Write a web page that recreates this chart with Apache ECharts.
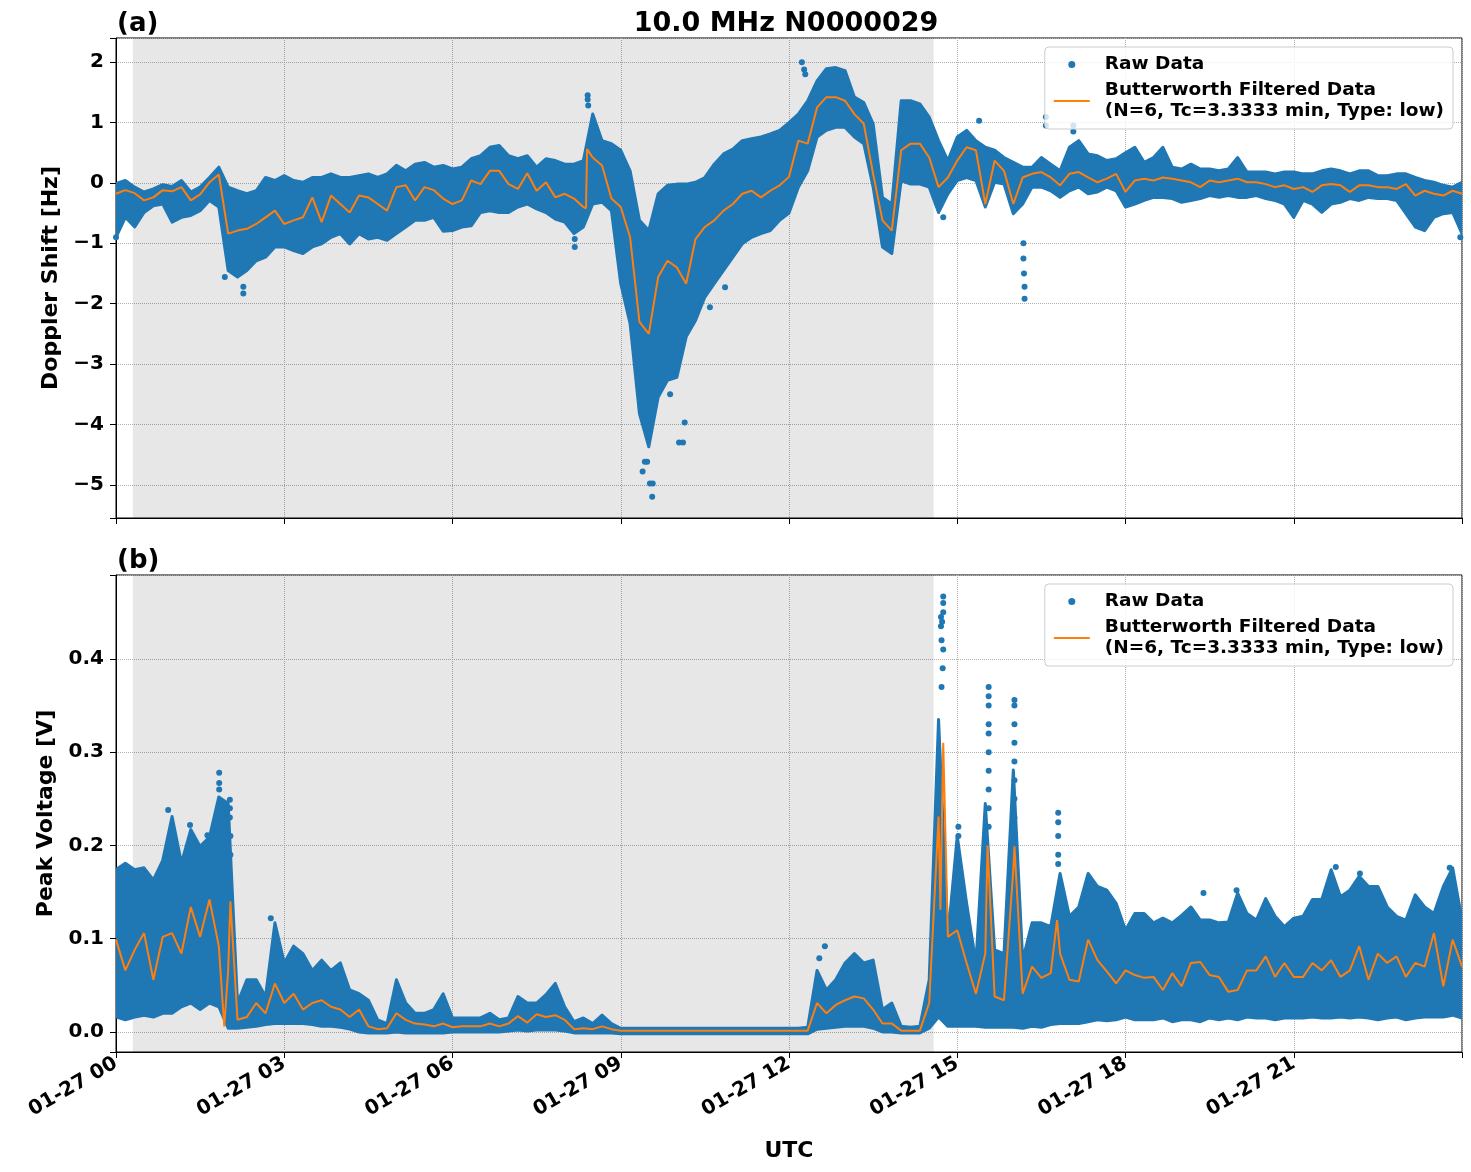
<!DOCTYPE html>
<html>
<head>
<meta charset="utf-8">
<script src="https://cdn.jsdelivr.net/npm/echarts@6/dist/echarts.min.js"></script>
<style>
  html, body { margin: 0; padding: 0; background: #fff; }
  #chart { width: 1471px; height: 1172px; }
</style>
</head>
<body>
<div id="chart"></div>
<script>
// sampling grid: every 10 min over 01-27 (hours UTC)
const hours = Array.from({ length: 145 }, (_, i) => i / 6)
const xTicks = [0, 3, 6, 9, 12, 15, 18, 21]
const nightStart = 0.3
const nightEnd = 14.58

// (a) Doppler shift [Hz]: raw-data cloud edges, filtered curve, isolated raw points
const dopplerHigh = [
  -0.01, 0.04, -0.07, -0.15, -0.1, -0.03, -0.06, 0.04, -0.15, -0.07, 0.09, 0.26,
  -0.07, -0.13, -0.18, -0.13, 0.09, 0.04, 0.12, 0.04, 0.01, 0.09, 0.09, 0.15,
  0.09, 0.09, 0.12, 0.15, 0.09, 0.15, 0.29, 0.2, 0.31, 0.34, 0.26, 0.29,
  0.23, 0.26, 0.4, 0.45, 0.59, 0.62, 0.45, 0.4, 0.45, 0.26, 0.4, 0.37,
  0.31, 0.31, 0.37, 1.14, 0.7, 0.65, 0.54, 0.2, -0.62, -0.79, -0.18, -0.04,
  -0.02, -0.02, 0.01, 0.09, 0.31, 0.48, 0.56, 0.7, 0.73, 0.76, 0.81, 0.87,
  1.0, 1.14, 1.36, 1.69, 1.89, 1.91, 1.86, 1.42, 1.33, 0.98, -0.24, -0.35,
  1.36, 1.36, 1.31, 1.09, 0.7, 0.37, 0.76, 0.87, 0.7, 0.59, 0.54, 0.42,
  0.34, 0.26, 0.26, 0.42, 0.31, 0.2, 0.59, 0.7, 0.48, 0.45, 0.37, 0.4,
  0.5, 0.59, 0.34, 0.42, 0.59, 0.26, 0.23, 0.31, 0.23, 0.23, 0.2, 0.23,
  0.42, 0.18, 0.18, 0.18, 0.15, 0.18, 0.18, 0.15, 0.15, 0.2, 0.23, 0.2,
  0.15, 0.2, 0.2, 0.12, 0.12, 0.15, 0.15, 0.09, 0.04, 0.01, -0.04, -0.07, 0.01
]
const dopplerLow = [
  -0.9, -0.57, -0.73, -0.49, -0.38, -0.35, -0.65, -0.57, -0.54, -0.46, -0.29, -0.4,
  -1.45, -1.56, -1.45, -1.29, -1.23, -1.06, -1.06, -1.12, -1.17, -1.06, -1.01, -0.9,
  -0.84, -1.01, -0.84, -0.93, -0.9, -0.95, -0.84, -0.73, -0.62, -0.62, -0.57, -0.8,
  -0.79, -0.73, -0.71, -0.49, -0.46, -0.49, -0.49, -0.4, -0.35, -0.43, -0.49, -0.6,
  -0.65, -0.84, -0.73, -0.35, -0.32, -0.46, -1.67, -2.33, -3.82, -4.37, -3.55, -3.27,
  -3.22, -2.55, -2.28, -1.89, -1.67, -1.45, -1.23, -1.01, -0.9, -0.84, -0.79, -0.62,
  -0.5, -0.07, 0.2, 0.76, 0.87, 0.92, 0.92, 0.76, 0.65, -0.07, -1.06, -1.17,
  0.04, -0.02, -0.02, -0.07, -0.49, -0.18, 0.04, 0.09, 0.04, -0.4, 0.01, -0.02,
  -0.51, -0.35, -0.07, -0.07, -0.13, -0.24, -0.13, -0.07, -0.18, -0.15, -0.07, -0.13,
  -0.4, -0.35, -0.29, -0.24, -0.24, -0.26, -0.32, -0.29, -0.26, -0.21, -0.24, -0.21,
  -0.24, -0.24, -0.21, -0.26, -0.29, -0.35, -0.57, -0.29, -0.35, -0.49, -0.35, -0.32,
  -0.26, -0.29, -0.24, -0.26, -0.26, -0.29, -0.51, -0.73, -0.79, -0.57, -0.51, -0.49, -0.84
]
const dopplerFiltered = [
  -0.18, -0.12, -0.17, -0.29, -0.24, -0.12, -0.14, -0.07, -0.29, -0.19, 0.01, 0.14,
  -0.84, -0.79, -0.76, -0.68, -0.57, -0.46, -0.68, -0.62, -0.57, -0.24, -0.65, -0.21,
  -0.35, -0.49, -0.21, -0.24, -0.35, -0.46, -0.07, -0.04, -0.29, -0.07, -0.12, -0.26,
  -0.35, -0.29, 0.04, -0.02, 0.2, 0.2, -0.02, -0.1, 0.16, -0.13, 0.01, -0.24,
  -0.18, -0.26, -0.4, 0.42, 0.29, -0.26, -0.4, -0.9, -2.3, -2.5, -1.56, -1.29,
  -1.4, -1.67, -0.93, -0.73, -0.62, -0.46, -0.35, -0.18, -0.13, -0.24, -0.13, -0.04,
  0.1, 0.7, 0.65, 1.25, 1.42, 1.42, 1.36, 1.14, 0.98, 0.15, -0.62, -0.79,
  0.54, 0.65, 0.65, 0.42, -0.07, 0.09, 0.37, 0.59, 0.54, -0.35, 0.37, 0.2,
  -0.35, 0.09, 0.15, 0.18, 0.09, -0.04, 0.15, 0.18, 0.09, 0.01, 0.07, 0.15,
  -0.15, 0.04, 0.07, 0.04, 0.09, 0.07, 0.04, 0.01, -0.07, 0.04, 0.01, 0.04,
  0.07, 0.01, 0.01, -0.02, -0.07, -0.04, -0.1, -0.07, -0.15, -0.04, -0.02, -0.04,
  -0.15, -0.04, -0.04, -0.07, -0.07, -0.1, -0.02, -0.21, -0.13, -0.18, -0.21, -0.13, -0.18
]
// sharp steps of the filtered curve between grid samples
const dopplerFilteredExtra = [[8.38, -0.42], [8.4, 0.56]]
const dopplerOutliers = [
  [0.0, -0.9], [1.94, -1.56], [2.27, -1.83], [2.27, -1.72], [8.18, -1.06], [8.18, -0.93],
  [8.41, 1.45], [8.41, 1.38], [8.42, 1.28], [9.39, -4.78], [9.43, -4.62], [9.47, -4.62],
  [9.52, -4.98], [9.56, -5.2], [9.57, -4.98], [9.88, -3.5], [10.04, -4.3], [10.11, -4.3],
  [10.14, -3.97], [10.59, -2.06], [10.86, -1.73], [12.23, 2.0], [12.27, 1.88], [12.29, 1.8],
  [14.75, -0.57], [15.39, 1.03], [16.18, -1.0], [16.18, -1.25], [16.19, -1.5], [16.2, -1.72],
  [16.2, -1.92], [16.58, 1.09], [16.58, 0.95], [17.07, 0.95], [17.07, 0.85], [23.97, -0.9]
]

// (b) Peak voltage [V]
const voltageHigh = [
  0.174, 0.181, 0.174, 0.176, 0.163, 0.184, 0.231, 0.181, 0.217, 0.199, 0.209, 0.252,
  0.245, 0.031, 0.056, 0.056, 0.038, 0.117, 0.074, 0.092, 0.084, 0.066, 0.077, 0.066,
  0.074, 0.045, 0.041, 0.034, 0.013, 0.009, 0.056, 0.031, 0.02, 0.02, 0.024, 0.041,
  0.015, 0.015, 0.015, 0.015, 0.02, 0.013, 0.015, 0.038, 0.031, 0.031, 0.04, 0.052,
  0.027, 0.011, 0.015, 0.009, 0.018, 0.009, 0.004, 0.004, 0.004, 0.004, 0.004, 0.004,
  0.004, 0.004, 0.004, 0.004, 0.004, 0.004, 0.004, 0.004, 0.004, 0.004, 0.004, 0.004,
  0.004, 0.004, 0.005, 0.066, 0.045, 0.056, 0.074, 0.084, 0.074, 0.077, 0.024, 0.031,
  0.006, 0.005, 0.006, 0.056, 0.335, 0.102, 0.21, 0.138, 0.074, 0.245, 0.088, 0.084,
  0.281, 0.077, 0.117, 0.117, 0.113, 0.17, 0.124, 0.134, 0.17, 0.156, 0.152, 0.138,
  0.109, 0.127, 0.127, 0.117, 0.122, 0.117, 0.125, 0.134, 0.12, 0.12, 0.117, 0.118,
  0.149, 0.127, 0.12, 0.143, 0.124, 0.113, 0.122, 0.124, 0.142, 0.142, 0.174, 0.145,
  0.152, 0.167, 0.156, 0.156, 0.134, 0.124, 0.12, 0.147, 0.134, 0.127, 0.156, 0.176, 0.12
]
const voltageLow = [
  0.016, 0.013, 0.016, 0.018, 0.016, 0.02, 0.02, 0.027, 0.031, 0.024, 0.031, 0.027,
  0.004, 0.004, 0.005, 0.006, 0.008, 0.009, 0.009, 0.009, 0.009, 0.008, 0.006, 0.006,
  0.005, 0.003, 0.0, -0.001, -0.001, -0.001, 0.0, -0.001, -0.001, -0.001, -0.001, -0.001,
  0.0, 0.0, 0.0, 0.0, 0.0, 0.0, 0.001, 0.002, 0.001, 0.002, 0.002, 0.002,
  0.001, -0.001, -0.001, -0.001, -0.001, -0.001, -0.002, -0.002, -0.002, -0.002, -0.002, -0.002,
  -0.002, -0.002, -0.002, -0.002, -0.002, -0.002, -0.002, -0.002, -0.002, -0.002, -0.002, -0.002,
  -0.002, -0.002, -0.002, 0.003, 0.004, 0.005, 0.006, 0.006, 0.006, 0.004, 0.0, 0.0,
  -0.001, -0.001, -0.001, 0.004, 0.016, 0.006, 0.006, 0.006, 0.006, 0.005, 0.005, 0.005,
  0.005, 0.004, 0.006, 0.005, 0.008, 0.009, 0.009, 0.009, 0.011, 0.013, 0.012, 0.013,
  0.016, 0.013, 0.013, 0.013, 0.015, 0.011, 0.013, 0.013, 0.011, 0.015, 0.013, 0.015,
  0.013, 0.016, 0.015, 0.015, 0.013, 0.015, 0.015, 0.015, 0.016, 0.015, 0.015, 0.016,
  0.015, 0.016, 0.015, 0.013, 0.015, 0.016, 0.013, 0.015, 0.016, 0.016, 0.016, 0.018, 0.015
]
const voltageFiltered = [
  0.099, 0.066, 0.088, 0.106, 0.056, 0.102, 0.106, 0.084, 0.134, 0.102, 0.142, 0.092,
  0.066, 0.013, 0.016, 0.031, 0.02, 0.052, 0.031, 0.041, 0.024, 0.031, 0.034, 0.027,
  0.024, 0.016, 0.024, 0.006, 0.003, 0.004, 0.02, 0.013, 0.009, 0.008, 0.006, 0.009,
  0.005, 0.006, 0.006, 0.006, 0.009, 0.006, 0.009, 0.017, 0.01, 0.019, 0.016, 0.018,
  0.013, 0.003, 0.004, 0.003, 0.006, 0.003, 0.0014, 0.0014, 0.0014, 0.0014, 0.0014, 0.0014,
  0.0014, 0.0014, 0.0014, 0.0014, 0.0014, 0.0014, 0.0014, 0.0014, 0.0014, 0.0014, 0.0014, 0.0014,
  0.0014, 0.0014, 0.0014, 0.031, 0.02, 0.029, 0.034, 0.038, 0.036, 0.024, 0.009, 0.009,
  0.0014, 0.0014, 0.0014, 0.031, 0.231, 0.102, 0.109, 0.074, 0.041, 0.084, 0.038, 0.034,
  0.174, 0.041, 0.07, 0.058, 0.063, 0.084, 0.056, 0.054, 0.099, 0.077, 0.065, 0.052,
  0.066, 0.061, 0.058, 0.059, 0.045, 0.063, 0.049, 0.074, 0.075, 0.061, 0.059, 0.043,
  0.045, 0.066, 0.066, 0.081, 0.059, 0.074, 0.059, 0.059, 0.074, 0.066, 0.077, 0.059,
  0.066, 0.092, 0.056, 0.084, 0.074, 0.081, 0.059, 0.074, 0.07, 0.106, 0.049, 0.099, 0.07
]
const voltageFilteredExtra = [
  [1.93, 0.006], [2.04, 0.14], [14.7, 0.131], [14.75, 0.31], [15.54, 0.2], [16.02, 0.199], [16.78, 0.12]
]
const voltageOutliers = [
  [0.93, 0.238], [1.32, 0.222], [1.63, 0.211], [1.84, 0.278], [1.84, 0.267], [1.84, 0.26],
  [2.03, 0.249], [2.03, 0.24], [2.03, 0.23], [2.04, 0.21], [2.04, 0.19], [2.76, 0.122],
  [2.95, 0.074], [12.54, 0.079], [12.64, 0.092],
  [14.71, 0.445], [14.71, 0.435], [14.72, 0.42], [14.72, 0.37], [14.73, 0.44], [14.74, 0.39],
  [14.75, 0.467], [14.75, 0.46], [14.75, 0.45], [14.75, 0.41], [15.02, 0.22], [15.02, 0.21],
  [15.56, 0.37], [15.56, 0.36], [15.56, 0.35], [15.56, 0.33], [15.56, 0.32], [15.56, 0.3],
  [15.56, 0.28], [15.56, 0.26], [15.56, 0.24], [15.56, 0.22],
  [16.02, 0.356], [16.02, 0.35], [16.02, 0.33], [16.02, 0.31], [16.02, 0.29], [16.02, 0.27],
  [16.02, 0.25], [16.02, 0.23], [16.8, 0.235], [16.8, 0.225], [16.8, 0.21], [16.8, 0.19],
  [16.8, 0.18], [19.39, 0.149], [19.98, 0.152], [21.75, 0.177], [22.18, 0.17], [23.78, 0.176]
]

const FONT = 'DejaVu Sans'
const BLUE = '#1f77b4'
const ORANGE = '#ff7f0e'
const RAW = 'Raw Data'
const FILT = 'Butterworth Filtered Data\n(N=6, Tc=3.3333 min, Type: low)'
const bold = (size) => ({ fontFamily: FONT, fontWeight: 'bold', fontSize: size, color: '#000' })

// whole cloud as one polygon: upper edge forward, lower edge back
function bandItem(params, api) {
  if (params.dataIndexInside !== 0) return null
  const n = params.dataInsideLength
  const pts = []
  for (let j = 0; j < n; j++) pts.push(api.coord([api.value(0, j), api.value(2, j)]))
  for (let j = n - 1; j >= 0; j--) pts.push(api.coord([api.value(0, j), api.value(1, j)]))
  return {
    type: 'polygon',
    shape: { points: pts },
    style: { fill: BLUE, stroke: BLUE, lineWidth: 3, lineJoin: 'round' },
  }
}

const lineData = (filtered, extra) =>
  hours.map((h, i) => [h, filtered[i]]).concat(extra).sort((a, b) => a[0] - b[0])

function panelSeries(k, low, high, filtered, extra, outliers) {
  return [
    {
      type: 'line', xAxisIndex: k, yAxisIndex: k, data: [], z: 1, silent: true,
      markArea: {
        silent: true,
        itemStyle: { color: 'rgba(0,0,0,0.095)' },
        data: [[{ xAxis: nightStart }, { xAxis: nightEnd }]],
      },
    },
    {
      name: RAW, type: 'custom', xAxisIndex: k, yAxisIndex: k, z: 2, clip: true,
      itemStyle: { color: BLUE },
      renderItem: bandItem,
      encode: { x: 0, y: [1, 2] },
      data: hours.map((h, i) => [h, low[i], high[i]]),
    },
    {
      name: RAW, type: 'scatter', xAxisIndex: k, yAxisIndex: k, z: 2,
      symbolSize: 6, itemStyle: { color: BLUE, opacity: 1 },
      data: outliers,
    },
    {
      name: FILT, type: 'line', xAxisIndex: k, yAxisIndex: k, z: 3,
      symbol: 'none', lineStyle: { color: ORANGE, width: 2 },
      itemStyle: { color: ORANGE },
      data: lineData(filtered, extra),
    },
  ]
}

function xAxisFor(k, withLabels) {
  return {
    type: 'value', gridIndex: k, min: 0, max: 24, interval: 3,
    axisLine: { show: true, onZero: false, lineStyle: { color: '#000', width: 1 } },
    axisTick: { show: true, length: 6, lineStyle: { color: '#000' } },
    splitLine: { show: true, lineStyle: { color: '#b0b0b0', type: 'dotted', width: 1 } },
    axisLabel: {
      show: withLabels, rotate: 30, margin: 10, ...bold(20),
      formatter: (v) => (xTicks.includes(v) ? '01-27 ' + String(v).padStart(2, '0') : ''),
    },
    name: withLabels ? 'UTC' : '',
    nameLocation: 'middle', nameGap: 88, nameTextStyle: bold(22),
  }
}

function yAxisFor(k, min, max, splitNumber, name, nameGap, fmt) {
  return {
    type: 'value', gridIndex: k, min, max, splitNumber,
    axisLine: { show: true, lineStyle: { color: '#000', width: 1 } },
    axisTick: { show: true, length: 6, lineStyle: { color: '#000' } },
    splitLine: { show: true, lineStyle: { color: '#b0b0b0', type: 'dotted', width: 1 } },
    axisLabel: { margin: 12, ...bold(20), formatter: fmt },
    name, nameLocation: 'middle', nameGap, nameTextStyle: bold(22),
  }
}

const legendFor = (top) => ({
  orient: 'vertical', right: 18, top,
  data: [
    { name: RAW, icon: 'circle' },
    { name: FILT, itemStyle: { color: 'rgba(0,0,0,0)', opacity: 0, borderWidth: 0 } },
  ],
  itemWidth: 36, itemHeight: 7, itemGap: 5,
  padding: [7, 9, 7, 8],
  backgroundColor: 'rgba(255,255,255,0.8)',
  borderColor: '#cccccc', borderWidth: 1, borderRadius: 4,
  selectedMode: false,
  textStyle: { ...bold(18.5), lineHeight: 21, padding: [0, 0, 0, 10] },
})

const dopplerFmt = (v) => {
  const r = Math.round(v)
  if (Math.abs(v - r) > 1e-6) return ''
  return r < 0 ? '\u2212' + Math.abs(r) : String(r)
}
const voltageFmt = (v) => {
  const r = Math.round(v * 10)
  if (Math.abs(v * 10 - r) > 1e-6) return ''
  return (r / 10).toFixed(1)
}

const chart = echarts.init(document.getElementById('chart'), null, { renderer: 'canvas' })
chart.setOption({
  animation: false,
  backgroundColor: '#fff',
  title: [
    { text: '10.0 MHz N0000029', left: 781, textAlign: 'center', top: 5, textStyle: bold(27) },
    { text: '(a)', left: 112, top: 6, textStyle: bold(26) },
    { text: '(b)', left: 112, top: 543, textStyle: bold(26) },
  ],
  legend: [legendFor(47), legendFor(584)],
  grid: [
    { left: 116, width: 1346, top: 38, height: 480, show: true, borderColor: '#000', borderWidth: 1, backgroundColor: '#fff', outerBoundsMode: 'none' },
    { left: 116, width: 1346, top: 575, height: 477, show: true, borderColor: '#000', borderWidth: 1, backgroundColor: '#fff', outerBoundsMode: 'none' },
  ],
  xAxis: [xAxisFor(0, false), xAxisFor(1, true)],
  yAxis: [
    yAxisFor(0, -5.55, 2.4, 8, 'Doppler Shift [Hz]', 50, dopplerFmt),
    yAxisFor(1, -0.0215, 0.49, 5, 'Peak Voltage [V]', 52, voltageFmt),
  ],
  series: [
    ...panelSeries(0, dopplerLow, dopplerHigh, dopplerFiltered, dopplerFilteredExtra, dopplerOutliers),
    ...panelSeries(1, voltageLow, voltageHigh, voltageFiltered, voltageFilteredExtra, voltageOutliers),
  ],
})
</script>
</body>
</html>
